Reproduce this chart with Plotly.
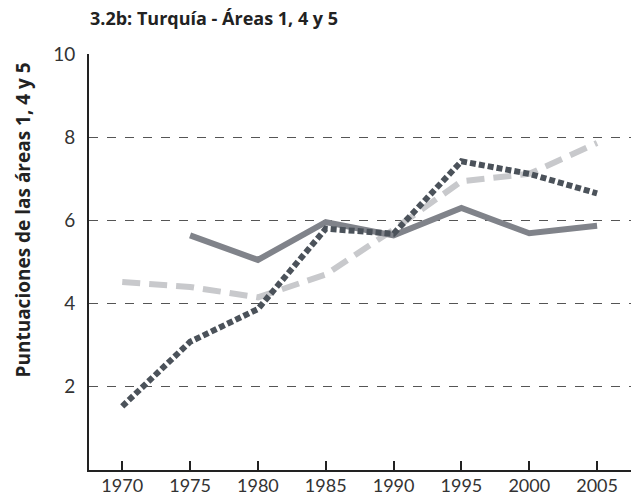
import plotly.graph_objects as go

years = [1970, 1975, 1980, 1985, 1990, 1995, 2000, 2005]
area1 = [None, 5.64, 5.05, 5.96, 5.64, 6.30, 5.69, 5.87]
area4 = [4.52, 4.40, 4.15, 4.70, 5.78, 6.94, 7.12, 7.86]
area5 = [1.53, 3.08, 3.87, 5.80, 5.68, 7.42, 7.12, 6.65]
yticks = [2, 4, 6, 8, 10]

fig = go.Figure()
fig.add_trace(go.Scatter(x=years, y=area4, mode="lines", name="Área 4",
                         line=dict(color="#c8c9cc", width=6, dash="18px,9px")))
fig.add_trace(go.Scatter(x=years, y=area1, mode="lines", name="Área 1",
                         line=dict(color="#80838a", width=6)))
fig.add_trace(go.Scatter(x=years, y=area5, mode="lines", name="Área 5",
                         line=dict(color="#4b525a", width=6, dash="6px,3px")))

fig.update_layout(
    width=635, height=496,
    margin=dict(l=89, r=4, t=54, b=26),
    plot_bgcolor="white", paper_bgcolor="white",
    showlegend=False,
    font=dict(family="Lato", color="#333"),
)
fig.update_xaxes(
    range=[1967.55, 2007.5], tickvals=years, ticktext=[str(y) for y in years],
    showgrid=False, showline=True, linecolor="#222", linewidth=2,
    ticks="inside", ticklen=9, tickwidth=2, tickcolor="#222",
    tickfont=dict(size=18, family="Lato", color="#333"), zeroline=False,
    automargin=False, ticklabelstandoff=-2,
)
fig.update_yaxes(
    range=[0, 10], tickvals=yticks, ticktext=[str(v) for v in yticks],
    showgrid=True, gridcolor="#555", gridwidth=1, griddash="dash",
    showline=True, linecolor="#222", linewidth=2, ticks="",
    tickfont=dict(size=19, family="Lato", color="#333"), zeroline=False,
    ticklabelstandoff=8, automargin=False,
)
fig.add_annotation(
    text="<b>3.2b: Turquía - Áreas 1, 4 y 5</b>", xref="paper", yref="paper",
    x=-0.002, y=1 + (54 - 18) / 416, xanchor="left", yanchor="middle",
    showarrow=False, font=dict(size=18, family="Open Sans", color="#222"),
)
fig.add_annotation(
    text="<b>Puntuaciones de las áreas 1, 4 y 5</b>", xref="paper", yref="paper",
    x=(22 - 89) / 542, y=(469.5 - 220) / 416, xanchor="center", yanchor="middle",
    textangle=-90, showarrow=False, font=dict(size=19, family="Open Sans", color="#222"),
)
fig.write_html("out.html", config={"displayModeBar": False},
               post_script="document.body.style.margin='0';")
